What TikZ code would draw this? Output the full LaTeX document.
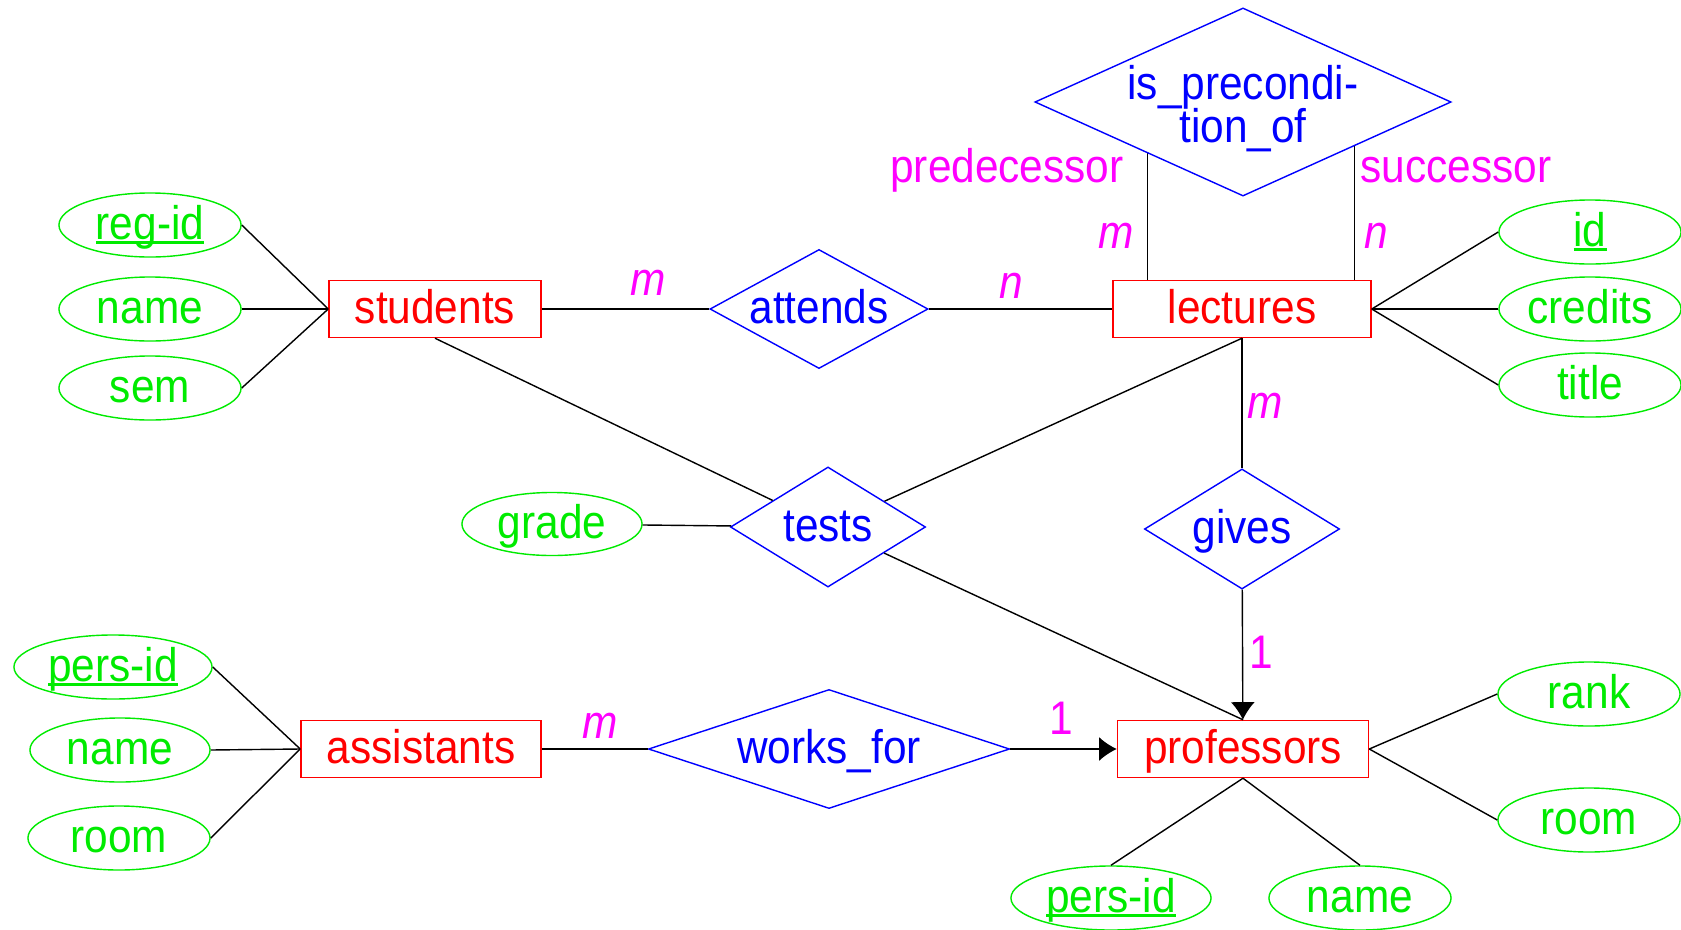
\documentclass[tikz,border=0pt]{standalone}
\usepackage{fontspec}
\setmainfont{Liberation Sans}[FakeStretch=0.9]
\usetikzlibrary{shapes.geometric,arrows.meta,backgrounds}
\definecolor{ergreen}{RGB}{0,235,0}
\definecolor{erpink}{RGB}{255,0,255}
\newcommand{\keyattr}[1]{\setbox0\hbox{#1}\rlap{\rule[-0.1em]{\wd0}{0.05em}}\box0}
\begin{document}
\begin{tikzpicture}[x=0.01cm, y=-0.01cm, font=\fontsize{13.4}{12.2}\selectfont,
	entity/.style={draw=red, text=red, fill=white, inner sep=0, minimum height=0.57cm, text height=0.28cm, text depth=0pt},
	relation/.style={diamond, draw=blue, text=blue, fill=white, inner sep=0, text height=0.28cm, text depth=0pt},
	attrib/.style={ellipse, draw=ergreen, text=ergreen, fill=white, inner sep=0, minimum width=1.82cm, minimum height=0.64cm, text height=0.28cm, text depth=0pt},
	card/.style={text=erpink, text height=0.28cm, text depth=0pt}]
	\useasboundingbox (0,0) rectangle (1681,930);
	%entities
	\node[entity, minimum width=2.12cm] (students) at (435,309) {students};
	\node[entity, minimum width=2.58cm] (lectures) at (1242,309) {lectures};
	\node[entity, minimum width=2.40cm] (assistants) at (421,749) {assistants};
	\node[entity, minimum width=2.51cm] (professors) at (1243,749) {professors};
	%relationships
	\node[relation, aspect=2.22, minimum width=4.16cm, minimum height=1.88cm, align=center, text height=0.8cm] (prec) at (1243,102) {is\_precondi-\\[-0.05cm]tion\_of};
	\node[relation, aspect=1.83, minimum width=2.18cm, minimum height=1.19cm] (attends) at (819,309) {attends};
	\node[relation, aspect=1.62, minimum width=1.95cm, minimum height=1.20cm] (tests) at (828,527) {tests};
	\node[relation, aspect=1.62, minimum width=1.95cm, minimum height=1.20cm] (gives) at (1242,529) {gives};
	\node[relation, aspect=3.03, minimum width=3.61cm, minimum height=1.19cm] (worksfor) at (829,749) {works\_for};
	%attributes
	\node[attrib] (regid) at (150,225) {\keyattr{reg-id}};
	\node[attrib] (sname) at (150,309) {name};
	\node[attrib] (sem) at (150,388) {sem};
	\node[attrib] (lid) at (1590,232) {\keyattr{id}};
	\node[attrib] (credits) at (1590,309) {credits};
	\node[attrib] (title) at (1590,385) {title};
	\node[attrib, minimum width=1.80cm, minimum height=0.63cm] (grade) at (552,524) {grade};
	\node[attrib, minimum width=1.98cm] (apersid) at (113,667) {\keyattr{pers-id}};
	\node[attrib, minimum width=1.80cm] (aname) at (120,750) {name};
	\node[attrib] (aroom) at (119,838) {room};
	\node[attrib] (rank) at (1589,694) {rank};
	\node[attrib] (proom) at (1589,820) {room};
	\node[attrib, minimum width=2.00cm] (ppersid) at (1111,898) {\keyattr{pers-id}};
	\node[attrib, minimum width=1.82cm] (pname) at (1360,898) {name};
	%links
	\foreach \a in {regid,sname,sem}
	\draw (\a.east) -- (students.west);
	\foreach \a in {lid,credits,title}
	\draw (\a.west) -- (lectures.east);
	\foreach \a in {apersid,aname,aroom}
	\draw (\a.east) -- (assistants.west);
	\foreach \a in {rank,proom}
	\draw (\a.west) -- (professors.east);
	\foreach \a in {ppersid,pname}
	\draw (\a.north) -- (professors.south);
	\draw (grade) -- (tests);
	\draw (students) -- (attends) -- (lectures);
	\draw (students.south) -- (tests);
	\draw (lectures.south) -- (tests);
	\draw (tests) -- (professors.north);
	\draw (lectures) -- (gives);
	\draw[-{Latex[length=5pt, width=6.8pt]}] (gives) -- (professors);
	\draw (assistants) -- (worksfor);
	\draw[-{Latex[length=5pt, width=6.8pt]}] (worksfor) -- (professors);
	\begin{scope}[on background layer]
	\draw ([xshift=0.35cm]lectures.north west) -- ([xshift=0.35cm]lectures.north west |- prec);
	\draw ([xshift=-0.17cm]lectures.north east) -- ([xshift=-0.17cm]lectures.north east |- prec);
	\end{scope}
	%cardinalities
	\node[card] (c1) at (648,281) {\itshape m};
	\node[card] (c2) at (1011,284) {\itshape n};
	\node[card] (c3) at (1116,234) {\itshape m};
	\node[card] (c4) at (1376,234) {\itshape n};
	\node[card] (pred) at (1007,168) {predecessor};
	\node[card] (succ) at (1456,168) {successor};
	\node[card] (c5) at (1265,404) {\itshape m};
	\node[card] (c6) at (1261,654) {1};
	\node[card] (c7) at (600,724) {\itshape m};
	\node[card] (c8) at (1061,720) {1};
\end{tikzpicture}
\end{document}
